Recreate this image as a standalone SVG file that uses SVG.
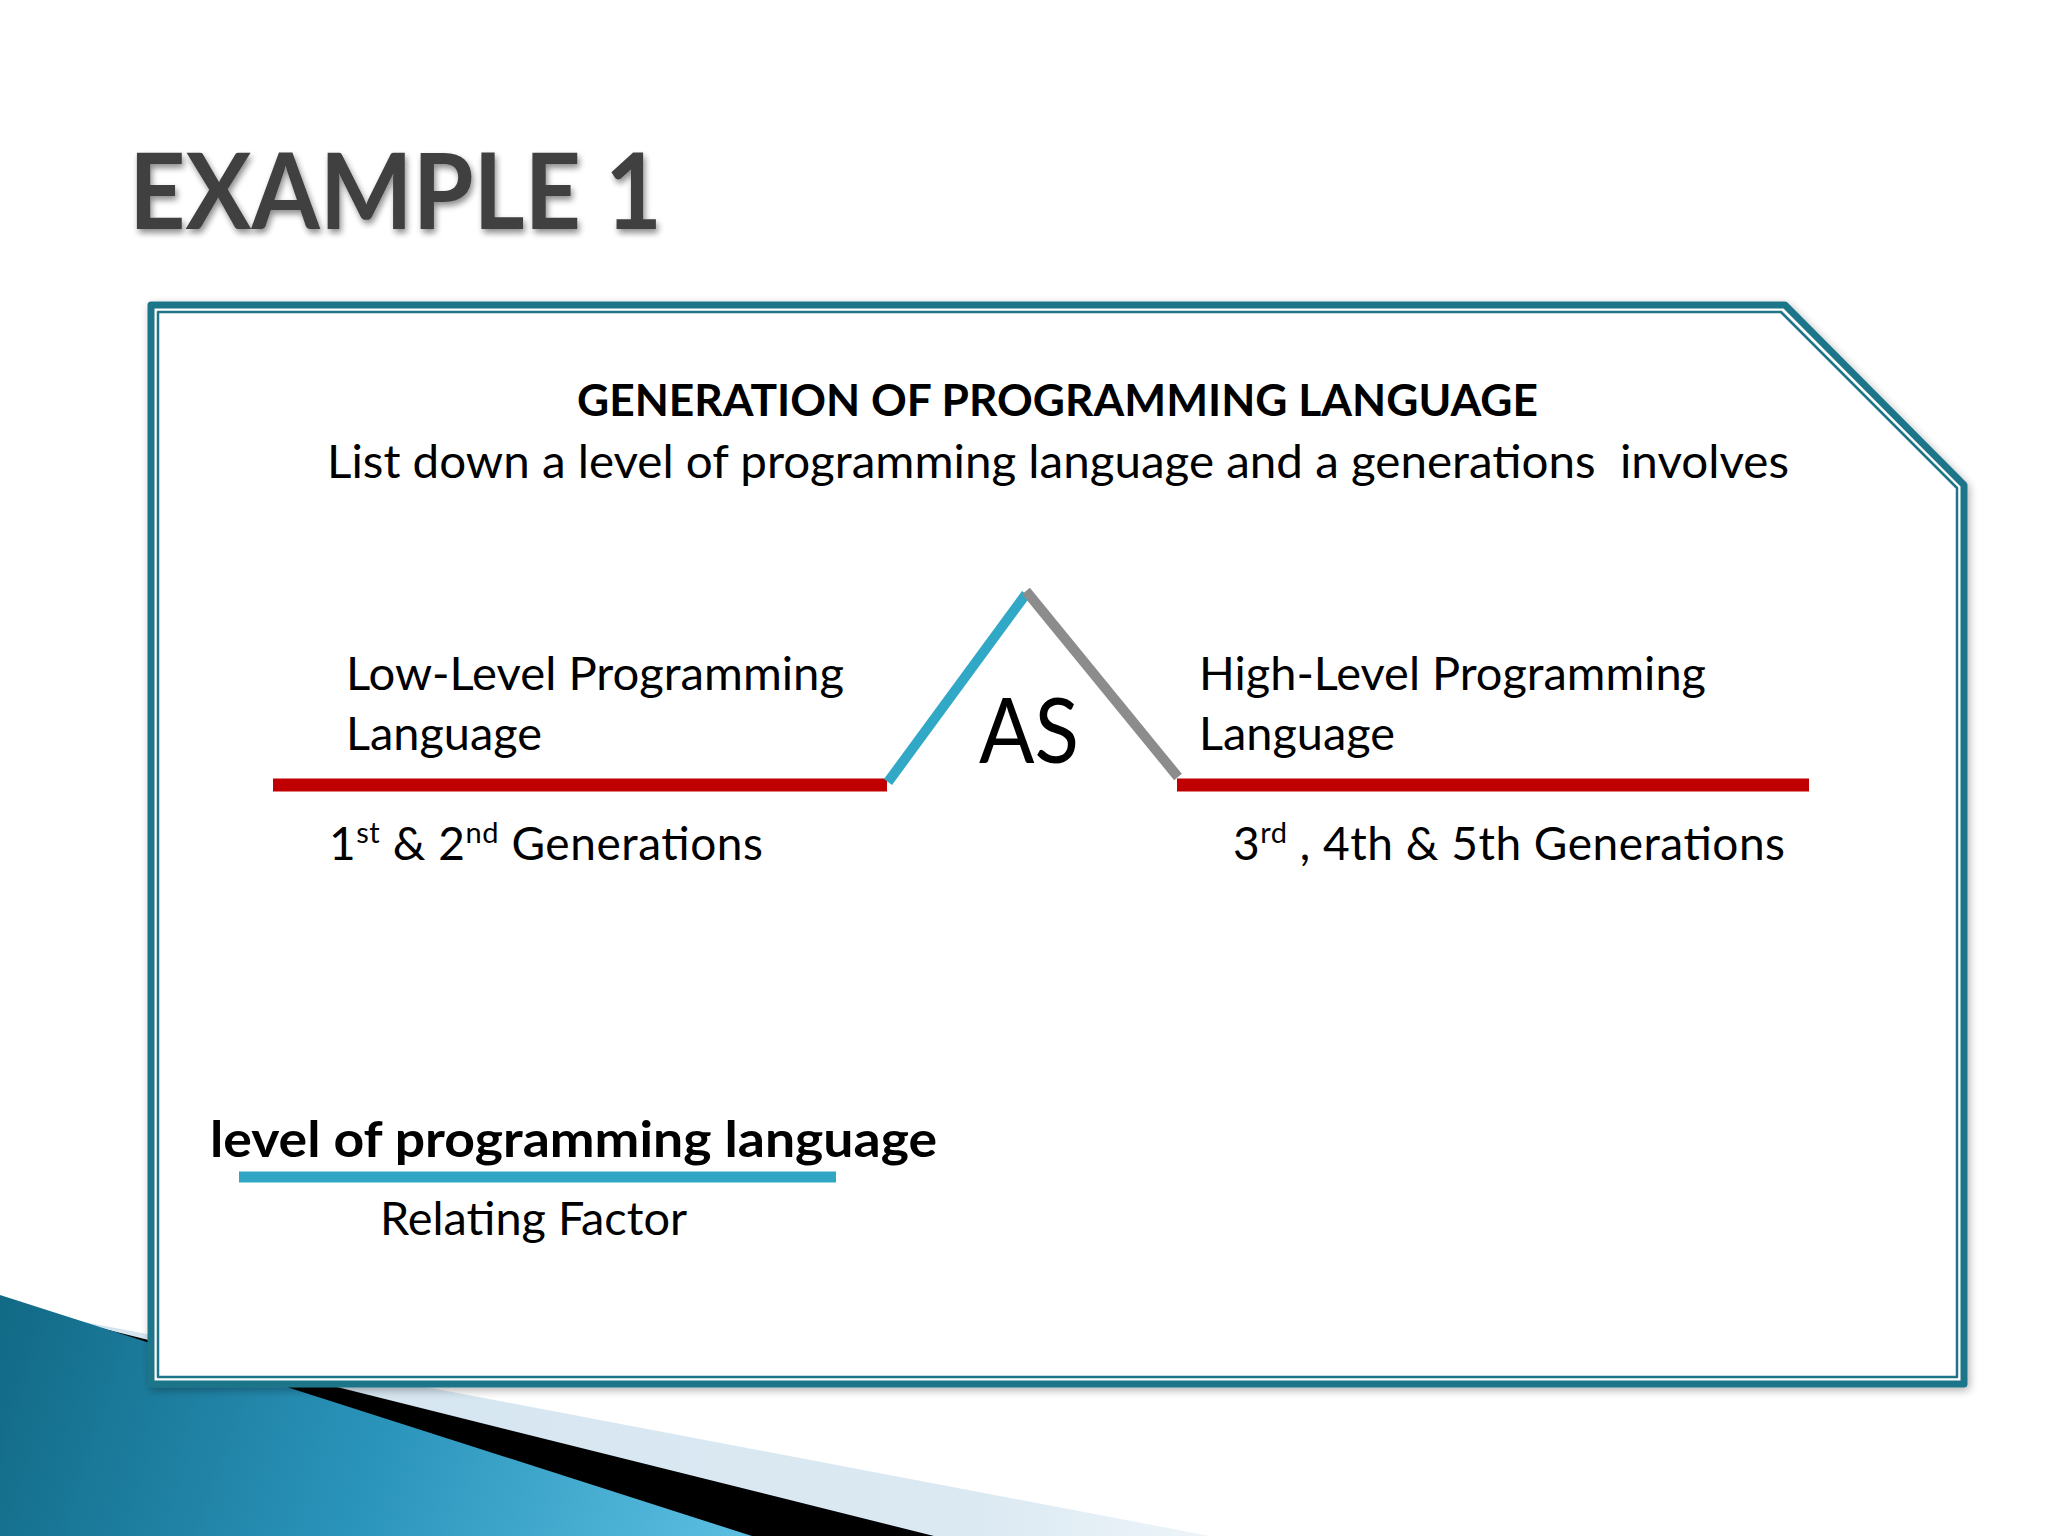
<svg xmlns="http://www.w3.org/2000/svg" width="2048" height="1536" viewBox="0 0 2048 1536">
  <defs>
    <linearGradient id="blueGrad" x1="0" y1="1290" x2="760" y2="1536" gradientUnits="userSpaceOnUse">
      <stop offset="0" stop-color="#116985"/>
      <stop offset="0.5" stop-color="#2a93ba"/>
      <stop offset="1" stop-color="#5cc0e2"/>
    </linearGradient>
    <linearGradient id="paleGrad" x1="0" y1="0" x2="1220" y2="0" gradientUnits="userSpaceOnUse">
      <stop offset="0" stop-color="#d3e4ef"/>
      <stop offset="0.8" stop-color="#dbe9f2"/>
      <stop offset="1" stop-color="#eef5f9"/>
    </linearGradient>
    <filter id="titleShadow" x="-10%" y="-20%" width="120%" height="150%">
      <feGaussianBlur in="SourceAlpha" stdDeviation="3"/>
      <feOffset dx="2" dy="4" result="b"/>
      <feComponentTransfer><feFuncA type="linear" slope="0.45"/></feComponentTransfer>
      <feMerge><feMergeNode/><feMergeNode in="SourceGraphic"/></feMerge>
    </filter>
    <filter id="frameShadow" x="-5%" y="-5%" width="110%" height="110%">
      <feGaussianBlur in="SourceAlpha" stdDeviation="4"/>
      <feOffset dx="2" dy="3"/>
      <feComponentTransfer><feFuncA type="linear" slope="0.3"/></feComponentTransfer>
      <feMerge><feMergeNode/><feMergeNode in="SourceGraphic"/></feMerge>
    </filter>
  </defs>
  <style>
    .t { font-family: Lato, "Open Sans", "Liberation Sans", sans-serif; fill: #000; }
    .body { font-size: 46px; }
    .bold { font-weight: bold; }
    .sup { font-size: 29px; }
    .frame { fill: none; stroke: #1f7588; stroke-linejoin: round; }
    .red { stroke: #c00000; stroke-width: 13; }
  </style>
  <rect width="2048" height="1536" fill="#ffffff"/>

  <g id="decoration">
    <polygon points="0,1306 1210,1536 0,1536" fill="url(#paleGrad)"/>
    <polygon points="0,1303 934,1536 0,1536" fill="#000000"/>
    <polygon points="0,1295 752,1536 0,1536" fill="url(#blueGrad)"/>
  </g>

  <g id="frame">
    <path d="M151,305 L1785,305 L1964,485 L1964,1384 L151,1384 Z" fill="#ffffff" stroke="#1f7588" stroke-width="7" stroke-linejoin="round" filter="url(#frameShadow)"/>
    <path class="frame" d="M158,312 L1781,312 L1957,488 L1957,1377 L158,1377 Z" stroke-width="2.5"/>
  </g>

  <g id="title">
    <text class="t bold" x="129" y="229" font-size="105" style="fill:#404040" textLength="533" lengthAdjust="spacingAndGlyphs" filter="url(#titleShadow)">EXAMPLE 1</text>
  </g>

  <g id="heading">
    <text class="t bold" x="577" y="416" font-size="44" textLength="961" lengthAdjust="spacingAndGlyphs">GENERATION OF PROGRAMMING LANGUAGE</text>
    <text class="t body" x="327" y="478" xml:space="preserve" textLength="1462" lengthAdjust="spacingAndGlyphs">List down a level of programming language and a generations  involves</text>
  </g>

  <g id="connectors">
    <line class="red" x1="273" y1="785" x2="887" y2="785"/>
    <line class="red" x1="1177" y1="785" x2="1809" y2="785"/>
    <line x1="888" y1="782" x2="1026" y2="594" stroke="#31a8c6" stroke-width="10"/>
    <line x1="1026" y1="591" x2="1178" y2="777" stroke="#8c8c8c" stroke-width="10"/>
    <line x1="239" y1="1177" x2="836" y2="1177" stroke="#31a5c4" stroke-width="11"/>
  </g>

  <g id="node-low">
    <text class="t body" x="346" y="690" textLength="498" lengthAdjust="spacingAndGlyphs">Low-Level Programming</text>
    <text class="t body" x="346" y="750" textLength="196" lengthAdjust="spacingAndGlyphs">Language</text>
    <text class="t body" x="329" y="860" textLength="434" lengthAdjust="spacing">1<tspan class="sup" dy="-17">st</tspan><tspan dy="17"> &amp; 2</tspan><tspan class="sup" dy="-17">nd</tspan><tspan dy="17"> Generations</tspan></text>
  </g>

  <g id="node-as">
    <text class="t" x="979" y="763" font-size="91" textLength="100" lengthAdjust="spacingAndGlyphs">AS</text>
  </g>

  <g id="node-high">
    <text class="t body" x="1199" y="690" textLength="507" lengthAdjust="spacingAndGlyphs">High-Level Programming</text>
    <text class="t body" x="1199" y="750" textLength="196" lengthAdjust="spacingAndGlyphs">Language</text>
    <text class="t body" x="1233" y="860" textLength="552" lengthAdjust="spacing">3<tspan class="sup" dy="-17">rd</tspan><tspan dy="17"> , 4th &amp; 5th Generations</tspan></text>
  </g>

  <g id="node-factor">
    <text class="t bold" x="210" y="1157" font-size="50" textLength="727" lengthAdjust="spacingAndGlyphs">level of programming language</text>
    <text class="t body" x="380" y="1235" textLength="307" lengthAdjust="spacingAndGlyphs">Relating Factor</text>
  </g>
</svg>
